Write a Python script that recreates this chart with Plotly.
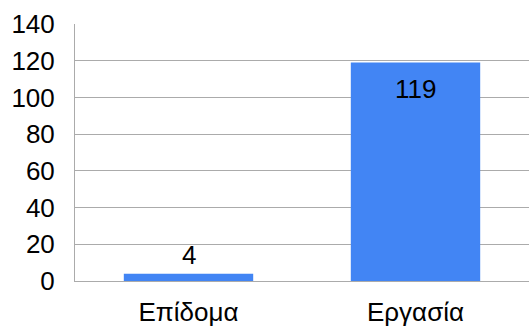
import plotly.graph_objects as go

categories = ["Επίδομα", "Εργασία"]
values = [4, 119]
y_ticks = [0, 20, 40, 60, 80, 100, 120, 140]

bar_color = "#4285F4"
grid_color = "#ABABAB"
font_family = "Liberation Sans, Arial, sans-serif"
font_size = 26

fig = go.Figure(
    go.Bar(
        x=categories,
        y=values,
        marker=dict(color=bar_color, line=dict(width=0)),
        width=0.57,
        hoverinfo="skip",
    )
)

# value labels: small bars get the label above, tall bars inside near the top
for cat, val in zip(categories, values):
    inside = val > 20
    fig.add_annotation(
        x=cat,
        y=val,
        text=str(val),
        showarrow=False,
        yanchor="top" if inside else "bottom",
        yshift=-9 if inside else 2,
        font=dict(family=font_family, size=font_size, color="#000000"),
    )

fig.update_layout(
    width=529,
    height=326,
    margin=dict(l=75, r=0, t=24, b=45),
    paper_bgcolor="white",
    plot_bgcolor="white",
    showlegend=False,
    font=dict(family=font_family, size=font_size, color="#000000"),
    xaxis=dict(
        showgrid=False,
        showline=True,
        linecolor=grid_color,
        linewidth=1,
        ticks="outside",
        ticklen=8,
        tickcolor="rgba(0,0,0,0)",
        tickfont=dict(size=font_size),
        automargin=False,
        fixedrange=True,
    ),
    yaxis=dict(
        range=[0, 140],
        tickvals=y_ticks,
        showgrid=True,
        gridcolor=grid_color,
        gridwidth=1,
        showline=True,
        linecolor=grid_color,
        linewidth=1,
        zeroline=False,
        ticks="outside",
        ticklen=14,
        tickcolor="rgba(0,0,0,0)",
        tickfont=dict(size=font_size),
        automargin=False,
        fixedrange=True,
    ),
)

fig.write_html("out.html")
